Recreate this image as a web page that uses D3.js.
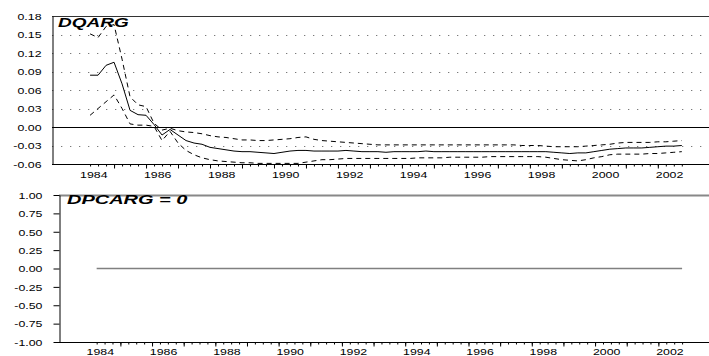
<!DOCTYPE html>
<html>
<head>
<meta charset="utf-8">
<script src="https://cdn.jsdelivr.net/npm/d3@7"></script>
<style>
  html, body { margin: 0; padding: 0; background: #fff; }
  svg { display: block; }
  text { font-family: "Liberation Sans", Arial, Helvetica, sans-serif; fill: #000; }
</style>
</head>
<body>
<svg id="chart" width="709" height="356"></svg>
<script>
// Recursive estimate of the DQARG coefficient with +/- 2 S.E. bands,
// and the restricted DPCARG coefficient, quarterly 1984Q2 - 2002Q4.
const firstQuarter = { year: 1984, q: 2 };
const lastQuarter = { year: 2002, q: 4 };

const dqarg = [
  0.084, 0.084, 0.100, 0.105, 0.070, 0.027, 0.020, 0.019, 0.004, -0.013,
  -0.004, -0.013, -0.022, -0.026, -0.028, -0.033, -0.035, -0.037, -0.039, -0.040,
  -0.040, -0.041, -0.042, -0.043, -0.041, -0.039, -0.038, -0.038, -0.039, -0.039,
  -0.039, -0.039, -0.038, -0.039, -0.040, -0.040, -0.040, -0.041, -0.040, -0.040,
  -0.040, -0.040, -0.039, -0.040, -0.040, -0.040, -0.040, -0.040, -0.040, -0.040,
  -0.040, -0.040, -0.040, -0.040, -0.040, -0.040, -0.040, -0.040, -0.041, -0.042,
  -0.043, -0.042, -0.042, -0.040, -0.038, -0.036, -0.035, -0.034, -0.034, -0.034,
  -0.033, -0.032, -0.031, -0.031, -0.030
];
const dqargUpper = [
  0.151, 0.145, 0.163, 0.166, 0.110, 0.049, 0.036, 0.033, 0.006, -0.005,
  -0.002, -0.006, -0.008, -0.009, -0.011, -0.014, -0.016, -0.017, -0.019, -0.021,
  -0.021, -0.022, -0.022, -0.021, -0.020, -0.019, -0.017, -0.016, -0.020, -0.022,
  -0.023, -0.024, -0.025, -0.026, -0.027, -0.028, -0.029, -0.029, -0.029, -0.029,
  -0.029, -0.029, -0.029, -0.029, -0.029, -0.029, -0.029, -0.029, -0.029, -0.029,
  -0.029, -0.029, -0.029, -0.029, -0.030, -0.030, -0.030, -0.031, -0.032, -0.032,
  -0.032, -0.032, -0.031, -0.030, -0.029, -0.028, -0.026, -0.025, -0.025, -0.025,
  -0.025, -0.024, -0.024, -0.023, -0.022
];
const dqargLower = [
  0.019, 0.030, 0.041, 0.052, 0.030, 0.005, 0.003, 0.003, 0.001, -0.022,
  -0.007, -0.026, -0.038, -0.045, -0.050, -0.053, -0.055, -0.056, -0.057, -0.058,
  -0.058, -0.059, -0.059, -0.059, -0.059, -0.059, -0.059, -0.057, -0.055, -0.053,
  -0.053, -0.052, -0.051, -0.051, -0.051, -0.051, -0.051, -0.051, -0.051, -0.051,
  -0.051, -0.050, -0.050, -0.050, -0.050, -0.049, -0.049, -0.049, -0.049, -0.049,
  -0.048, -0.048, -0.048, -0.048, -0.048, -0.048, -0.048, -0.049, -0.051, -0.053,
  -0.054, -0.055, -0.053, -0.050, -0.048, -0.045, -0.044, -0.044, -0.044, -0.044,
  -0.043, -0.043, -0.042, -0.041, -0.040
];
const dpcarg = [
  0, 0, 0, 0, 0, 0, 0, 0, 0, 0, 0, 0, 0, 0, 0, 0, 0, 0, 0, 0,
  0, 0, 0, 0, 0, 0, 0, 0, 0, 0, 0, 0, 0, 0, 0, 0, 0, 0, 0, 0,
  0, 0, 0, 0, 0, 0, 0, 0, 0, 0, 0, 0, 0, 0, 0, 0, 0, 0, 0, 0,
  0, 0, 0, 0, 0, 0, 0, 0, 0, 0, 0, 0, 0, 0, 0
];

const topTicks = [-0.06, -0.03, 0.00, 0.03, 0.06, 0.09, 0.12, 0.15, 0.18];
const topGrid = [-0.03, 0.03, 0.06, 0.09, 0.12, 0.15];
const bottomTicks = [-1.00, -0.75, -0.50, -0.25, 0.00, 0.25, 0.50, 0.75, 1.00];
const yearLabels = [1984, 1986, 1988, 1990, 1992, 1994, 1996, 1998, 2000, 2002];

// quarter list and decimal time
const quarters = [];
for (let y = firstQuarter.year, q = firstQuarter.q;
     y < lastQuarter.year || (y === lastQuarter.year && q <= lastQuarter.q);) {
  quarters.push(y + (q - 1) / 4);
  q += 1;
  if (q > 4) { q = 1; y += 1; }
}
const majorTicks = quarters.filter(t => Number.isInteger(t));

const svg = d3.select("#chart");
svg.append("rect").attr("width", 709).attr("height", 356).attr("fill", "#fff");

const xDomain = [1983.06, 2003.6];
const textScale = 1.33;
const fmt = v => (v < 0 ? "-" : "") + Math.abs(v).toFixed(2);

function panel(opts) {
  const g = svg.append("g");
  const x = d3.scaleLinear().domain(xDomain).range([opts.left, opts.right]);
  const y = d3.scaleLinear().domain(opts.yDomain).range([opts.bottom, opts.top]);

  // dotted gridlines
  (opts.grid || []).forEach(v => {
    g.append("line")
      .attr("x1", opts.left).attr("x2", opts.right)
      .attr("y1", Math.round(y(v)) + 0.5).attr("y2", Math.round(y(v)) + 0.5)
      .attr("stroke", "#7a7a7a").attr("stroke-width", 1.2)
      .attr("stroke-dasharray", "1.3,7.7");
  });

  // top frame line
  g.append("line")
    .attr("x1", opts.left).attr("x2", opts.right)
    .attr("y1", opts.top + 0.5).attr("y2", opts.top + 0.5)
    .attr("stroke", opts.frameColor).attr("stroke-width", opts.frameWidth);

  // zero reference line
  if (opts.zeroLine) {
    g.append("line")
      .attr("x1", opts.left).attr("x2", opts.right)
      .attr("y1", Math.round(y(0)) + 0.5).attr("y2", Math.round(y(0)) + 0.5)
      .attr("stroke", "#000").attr("stroke-width", 1);
  }

  // series
  opts.series.forEach(s => {
    const line = d3.line().x((d, i) => x(quarters[i])).y(d => y(d));
    g.append("path").datum(s.values)
      .attr("d", line)
      .attr("fill", "none")
      .attr("stroke", s.color)
      .attr("stroke-width", s.width)
      .attr("stroke-dasharray", s.dash || null)
      .attr("stroke-linejoin", "round");
  });

  // left axis
  const yAxis = d3.axisLeft(y).tickValues(opts.yTicks).tickSize(opts.yTickSize)
    .tickSizeOuter(0).tickFormat(fmt);
  const ya = g.append("g").attr("transform", `translate(${opts.left + 0.5},0)`).call(yAxis);
  ya.select(".domain").attr("stroke", "#000");
  ya.selectAll(".tick line").attr("stroke", "#000");
  ya.selectAll(".tick text")
    .attr("font-size", 9.3)
    .attr("x", -opts.labelGap / textScale)
    .attr("dy", "0.35em")
    .attr("transform", `scale(${textScale},1)`);

  // bottom axis: quarter ticks, longer yearly ticks
  const xa = g.append("g").attr("transform", `translate(0,${opts.bottom + 0.5})`);
  xa.append("line").attr("x1", opts.left).attr("x2", opts.right)
    .attr("stroke", "#000").attr("stroke-width", 1);
  xa.call(g2 => g2.append("g").call(
    d3.axisBottom(x).tickValues(quarters).tickSize(2).tickSizeOuter(0).tickFormat("")
  ).select(".domain").remove());
  xa.call(g2 => g2.append("g").call(
    d3.axisBottom(x).tickValues(majorTicks).tickSize(4).tickSizeOuter(0).tickFormat("")
  ).select(".domain").remove());
  xa.selectAll(".tick line").attr("stroke", "#000");

  // year labels
  const lab = xa.append("g").call(
    d3.axisBottom(x).tickValues(yearLabels.map(v => v + 0.35)).tickSize(0)
      .tickFormat(v => String(Math.round(v - 0.35)))
  );
  lab.select(".domain").remove();
  lab.selectAll(".tick text")
    .attr("font-size", 9.3)
    .attr("y", 0).attr("dy", 0)
    .attr("transform", `translate(0,${opts.labelBaseline - opts.bottom - 0.5}) scale(${textScale},1)`);

  // panel title
  g.append("text")
    .attr("x", 0).attr("y", 0)
    .attr("transform", `translate(${opts.titleX},${opts.titleY}) scale(${opts.titleScale},1)`)
    .attr("font-size", 12.5)
    .attr("font-weight", "bold")
    .attr("font-style", "italic")
    .text(opts.title);
}

panel({
  left: 52, right: 709, top: 16, bottom: 164,
  yDomain: [-0.06, 0.18], yTicks: topTicks, grid: topGrid, yTickSize: 0,
  labelGap: 11,
  frameColor: "#333", frameWidth: 1, zeroLine: true,
  labelBaseline: 178,
  title: "DQARG", titleX: 58, titleY: 27, titleScale: 1.52,
  series: [
    { values: dqargUpper, color: "#000", width: 1, dash: "5,4" },
    { values: dqargLower, color: "#000", width: 1, dash: "5,4" },
    { values: dqarg, color: "#000", width: 1 }
  ]
});

panel({
  left: 59, right: 709, top: 195, bottom: 342,
  yDomain: [-1, 1], yTicks: bottomTicks, grid: [], yTickSize: 6,
  labelGap: 17,
  frameColor: "#888", frameWidth: 2, zeroLine: false,
  labelBaseline: 354.5,
  title: "DPCARG = 0", titleX: 67, titleY: 204, titleScale: 1.6,
  series: [
    { values: dpcarg, color: "#808080", width: 1.5 }
  ]
});
</script>
</body>
</html>
